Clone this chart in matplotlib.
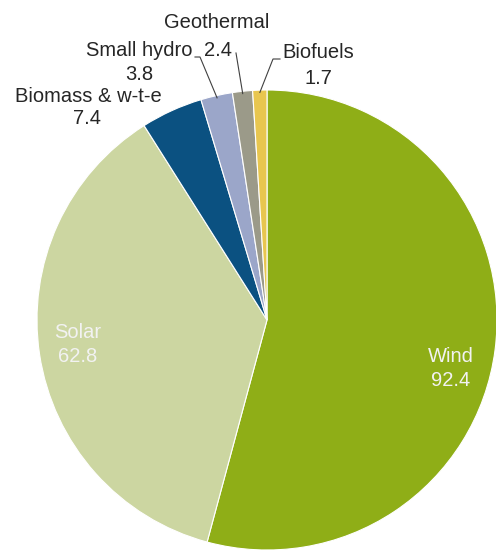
import matplotlib
matplotlib.use('Agg')
import matplotlib.pyplot as plt
import numpy as np

plt.rcParams['font.family'] = ['Liberation Sans', 'DejaVu Sans']

# data (GW)
sources = ['Wind', 'Solar', 'Biomass & w-t-e', 'Small hydro', 'Geothermal', 'Biofuels']
values = [92.4, 62.8, 7.4, 3.8, 2.4, 1.7]
colors = ['#8fae17', '#ccd6a1', '#0b5181', '#9ba6c9', '#9b9a89', '#e8c64f']

# pixel helpers (center of pie and radius in px)
CX, CY, R = 267, 320, 230
W, H = 496, 552


def px(x, y):
    return (x - CX) / R, (CY - y) / R


fig = plt.figure(figsize=(W / 100, H / 100), dpi=100)
ax = fig.add_axes([0, 0, 1, 1])
wedges, _ = ax.pie(values, colors=colors, startangle=90, counterclock=False,
                   radius=1, wedgeprops=dict(edgecolor='white', linewidth=0.8))
ax.set_xlim(-CX / R, (W - CX) / R)
ax.set_ylim(-(H - CY) / R, CY / R)
ax.set_aspect('equal')
ax.axis('off')

fs = 14.5
txt = '#262626'

# labels inside the big slices
for name, val, (x, y) in [(sources[0], values[0], (451, 357)),
                          (sources[1], values[1], (78, 332))]:
    ax.text(*px(x, y), name, ha='center', va='center', fontsize=fs, color='#f2f2f2')
    ax.text(*px(x, y + 24), f'{val:.1f}', ha='center', va='center', fontsize=fs, color='#f2f2f2')

# outside labels
ax.text(*px(88, 97), sources[2], ha='center', va='center', fontsize=fs, color=txt)
ax.text(*px(87, 118), f'{values[2]:.1f}', ha='center', va='center', fontsize=fs, color=txt)
ax.text(*px(193, 50), sources[3], ha='right', va='center', fontsize=fs, color=txt)
ax.text(*px(139, 75), f'{values[3]:.1f}', ha='center', va='center', fontsize=fs, color=txt)
ax.text(*px(217, 22), sources[4], ha='center', va='center', fontsize=fs, color=txt)
ax.text(*px(218, 50), f'{values[4]:.1f}', ha='center', va='center', fontsize=fs, color=txt)
ax.text(*px(318, 53), sources[5], ha='center', va='center', fontsize=fs, color=txt)
ax.text(*px(318, 78), f'{values[5]:.1f}', ha='center', va='center', fontsize=fs, color=txt)


# leader lines to the small slices
def mid(w):
    a = np.deg2rad((w.theta1 + w.theta2) / 2)
    return np.cos(a) * 0.99, np.sin(a) * 0.99


for w, pts in [(wedges[3], [(195, 57), (200, 57)]),
               (wedges[4], [(236, 53)]),
               (wedges[5], [(280, 59), (273, 59)])]:
    xs = [px(*p)[0] for p in pts] + [mid(w)[0]]
    ys = [px(*p)[1] for p in pts] + [mid(w)[1]]
    ax.plot(xs, ys, color='#404040', lw=0.8)

fig.savefig('out.png', dpi=100)
